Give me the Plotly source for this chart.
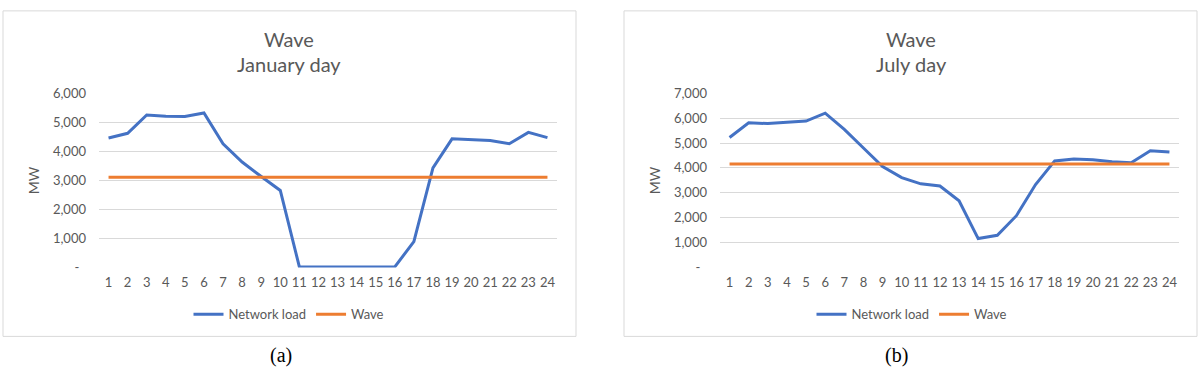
import plotly.graph_objects as go

W, H = 1200, 376

hours = list(range(1, 25))
x_tick_labels = [str(h) for h in hours]

jan_network_load = [4460, 4620, 5250, 5210, 5200, 5320, 4260, 3630, 3130, 2650,
                    20, 20, 20, 20, 20, 20, 890, 3430, 4430, 4410,
                    4370, 4260, 4650, 4470]
jan_wave = [3110, 3110, 3110, 3110, 3110, 3110, 3110, 3110, 3110, 3110,
            3110, 3110, 3110, 3110, 3110, 3110, 3110, 3110, 3110, 3110,
            3110, 3110, 3110, 3110]

jul_network_load = [5220, 5810, 5780, 5820, 5880, 6200, 5550, 4800, 4050, 3610,
                    3360, 3270, 2680, 1160, 1290, 2080, 3330, 4280, 4360, 4330,
                    4250, 4210, 4690, 4640]
jul_wave = [4160, 4160, 4160, 4160, 4160, 4160, 4160, 4160, 4160, 4160,
            4160, 4160, 4160, 4160, 4160, 4160, 4160, 4160, 4160, 4160,
            4160, 4160, 4160, 4160]

jan_ytick_vals = [0, 1000, 2000, 3000, 4000, 5000, 6000]
jan_ytick_text = ["-\u00a0\u00a0", "1,000", "2,000", "3,000", "4,000", "5,000", "6,000"]
jul_ytick_vals = [0, 1000, 2000, 3000, 4000, 5000, 6000, 7000]
jul_ytick_text = ["-\u00a0\u00a0", "1,000", "2,000", "3,000", "4,000", "5,000", "6,000", "7,000"]

titles = [("Wave", "January day"), ("Wave", "July day")]
captions = ["(a)", "(b)"]

BLUE = "#4472C4"
ORANGE = "#ED7D31"
GRAY_TXT = "#595959"
GRID = "#D9D9D9"
FONT = "Lato"


def px(x):
    return x / W


def py(y):
    return 1 - y / H


fig = go.Figure()

fig.add_trace(go.Scatter(x=hours, y=jan_network_load, mode="lines", name="Network load",
                         line=dict(color=BLUE, width=3), xaxis="x", yaxis="y", legend="legend"))
fig.add_trace(go.Scatter(x=hours, y=jan_wave, mode="lines", name="Wave",
                         line=dict(color=ORANGE, width=3), xaxis="x", yaxis="y", legend="legend"))
fig.add_trace(go.Scatter(x=hours, y=jul_network_load, mode="lines", name="Network load",
                         line=dict(color=BLUE, width=3), xaxis="x2", yaxis="y2", legend="legend2"))
fig.add_trace(go.Scatter(x=hours, y=jul_wave, mode="lines", name="Wave",
                         line=dict(color=ORANGE, width=3), xaxis="x2", yaxis="y2", legend="legend2"))

ydom = [py(271), py(89)]
xcommon = dict(range=[0.5, 24.5], tickvals=hours, ticktext=x_tick_labels, showgrid=False,
               zeroline=False, showline=False, ticks="", fixedrange=True,
               tickfont=dict(family=FONT, size=13, color=GRAY_TXT), ticklabelstandoff=6)
ycommon = dict(showgrid=True, gridcolor=GRID, gridwidth=1, zeroline=False, showline=False,
               ticks="", tickfont=dict(family=FONT, size=13, color=GRAY_TXT),
               ticklabelstandoff=12, domain=ydom, fixedrange=True)

legcommon = dict(orientation="h", xanchor="center", yanchor="middle", y=py(320),
                 font=dict(family=FONT, size=13, color=GRAY_TXT), bgcolor="rgba(0,0,0,0)",
                 itemwidth=30, tracegroupgap=0, traceorder="normal")

fig.update_layout(
    width=W, height=H, margin=dict(l=0, r=0, t=0, b=0),
    paper_bgcolor="white", plot_bgcolor="white",
    xaxis=dict(domain=[px(99), px(557)], anchor="y", **xcommon),
    yaxis=dict(range=[0, 6000], tickvals=jan_ytick_vals, ticktext=jan_ytick_text, anchor="x", **ycommon),
    xaxis2=dict(domain=[px(720), px(1179)], anchor="y2", **xcommon),
    yaxis2=dict(range=[0, 7000], tickvals=jul_ytick_vals, ticktext=jul_ytick_text, anchor="x2", **ycommon),
    legend=dict(x=px(289), **legcommon),
    legend2=dict(x=px(912), **legcommon),
    showlegend=True,
    hovermode=False,
)

panels = [(3, 576), (624, 1197)]
for (x0, x1) in panels:
    fig.add_shape(type="rect", xref="paper", yref="paper", x0=px(x0), x1=px(x1), y0=py(343), y1=py(3),
                  line=dict(color=GRID, width=1), fillcolor="rgba(0,0,0,0)", layer="below")

title_centers = [289, 911]
for (t1, t2), cx in zip(titles, title_centers):
    fig.add_annotation(text=t1, x=px(cx), y=py(32), xref="paper", yref="paper", showarrow=False,
                       xanchor="center", yanchor="middle", font=dict(family=FONT, size=20, color=GRAY_TXT))
    fig.add_annotation(text=t2, x=px(cx), y=py(58), xref="paper", yref="paper", showarrow=False,
                       xanchor="center", yanchor="middle", font=dict(family=FONT, size=20, color=GRAY_TXT))

for mx in [33, 654]:
    fig.add_annotation(text="MW", x=px(mx), y=py(180), xref="paper", yref="paper", showarrow=False,
                       textangle=-90, xanchor="center", yanchor="middle",
                       font=dict(family=FONT, size=14, color=GRAY_TXT))

for cap, cx in zip(captions, [281, 896]):
    fig.add_annotation(text=cap, x=px(cx), y=py(363), xref="paper", yref="paper", showarrow=False,
                       xanchor="center", yanchor="middle",
                       font=dict(family="Liberation Serif", size=20, color="black"))

post = (
    "var s=document.createElement('style');"
    "s.textContent='html,body{margin:0!important;padding:0!important;overflow:hidden!important;"
    "width:1200px;height:376px;}body>div{margin:0;padding:0;height:376px;overflow:hidden;}';"
    "document.head.appendChild(s);"
)
fig.write_html("out.html", config={"displayModeBar": False, "staticPlot": True}, post_script=post)
